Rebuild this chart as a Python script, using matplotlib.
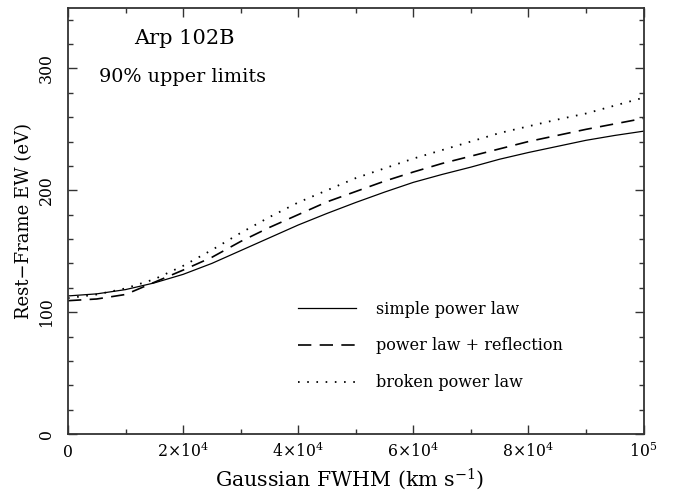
import matplotlib
matplotlib.use("Agg")
import matplotlib.pyplot as plt
from matplotlib.ticker import MultipleLocator, FixedLocator, FixedFormatter

plt.rcParams['font.family'] = ['DejaVu Serif']
plt.rcParams['mathtext.fontset'] = 'dejavuserif'

# FWHM grid (km/s)
fwhm = [0, 5000, 10000, 15000, 20000, 25000, 30000, 35000, 40000, 45000, 50000,
        55000, 60000, 65000, 70000, 75000, 80000, 85000, 90000, 95000, 100000]

simple_pl = [113.3, 115.0, 118.5, 124.0, 131.0, 140.0, 150.5, 161.0, 171.5, 181.0, 190.0,
             198.5, 206.5, 213.0, 219.0, 225.5, 231.0, 236.0, 241.0, 245.0, 248.5]
pl_reflection = [109.4, 110.8, 114.5, 124.5, 134.5, 145.0, 158.0, 169.5, 180.0, 190.5, 199.0,
                 207.5, 215.0, 222.0, 228.0, 234.0, 240.0, 245.0, 250.0, 254.5, 259.0]
broken_pl = [111.5, 114.5, 119.5, 127.0, 138.0, 151.0, 165.0, 178.0, 190.0, 200.0, 210.0,
             218.0, 226.0, 233.0, 240.0, 247.0, 252.5, 258.0, 263.0, 269.5, 276.0]

labels = ['simple power law', 'power law + reflection', 'broken power law']

xticks = [0, 20000, 40000, 60000, 80000, 100000]
xticklabels = ['0', r'$2{\times}10^4$', r'$4{\times}10^4$', r'$6{\times}10^4$',
               r'$8{\times}10^4$', r'$10^5$']
yticks = [0, 100, 200, 300]
yticklabels = ['0', '100', '200', '300']

W, H = 678, 497
fig = plt.figure(figsize=(W / 100, H / 100), dpi=100)
ax = fig.add_axes([68 / W, 1 - 434 / H, (643.5 - 68) / W, (434 - 7.5) / H])

ax.plot(fwhm, simple_pl, color='black', lw=0.9, label=labels[0])
ax.plot(fwhm, pl_reflection, color='black', lw=1.2, dashes=(8, 5), label=labels[1])
ax.plot(fwhm, broken_pl, color='black', lw=1.3, dashes=(0.9, 4.2), label=labels[2])

ax.set_xlim(0, 100000)
ax.set_ylim(0, 350)

ax.xaxis.set_major_locator(FixedLocator(xticks))
ax.xaxis.set_major_formatter(FixedFormatter(xticklabels))
ax.xaxis.set_minor_locator(MultipleLocator(10000))
ax.yaxis.set_major_locator(FixedLocator(yticks))
ax.yaxis.set_major_formatter(FixedFormatter(yticklabels))
ax.yaxis.set_minor_locator(MultipleLocator(20))

ax.tick_params(which='both', direction='in', top=True, right=True, color='#333333')
ax.tick_params(which='major', length=6.5, width=1.0)
ax.tick_params(which='minor', length=3.8, width=1.0)
ax.tick_params(axis='x', which='major', pad=16.5, labelsize=11.3)
ax.tick_params(axis='y', which='major', pad=12.2, labelsize=11.3)

for lab in ax.get_xticklabels():
    lab.set_va('baseline')
for lab in ax.get_yticklabels():
    lab.set_rotation(90)
    lab.set_rotation_mode('anchor')
    lab.set_ha('center')
    lab.set_va('baseline')

for s in ax.spines.values():
    s.set_linewidth(1.3)
    s.set_color('#333333')

leg = ax.legend(loc='upper left', bbox_to_anchor=(298 / W, 1 - 300.5 / H),
                bbox_transform=fig.transFigure, frameon=False, fontsize=11.5,
                handlelength=3.6, handletextpad=1.3, labelspacing=1.25,
                borderpad=0, borderaxespad=0)

fig.text(184 / W, 1 - 39 / H, 'Arp 102B', ha='center', va='center', fontsize=15)
fig.text(183 / W, 1 - 77 / H, '90% upper limits', ha='center', va='center', fontsize=13.8)
fig.text(24 / W, 1 - 221 / H, 'Rest\u2212Frame EW (eV)', rotation=90, ha='center',
         va='center', fontsize=13)
fig.text(350 / W, 1 - 486 / H, r'Gaussian FWHM (km s$^{-1}$)', ha='center',
         va='baseline', fontsize=14.8)

fig.savefig('out.png', dpi=100)
